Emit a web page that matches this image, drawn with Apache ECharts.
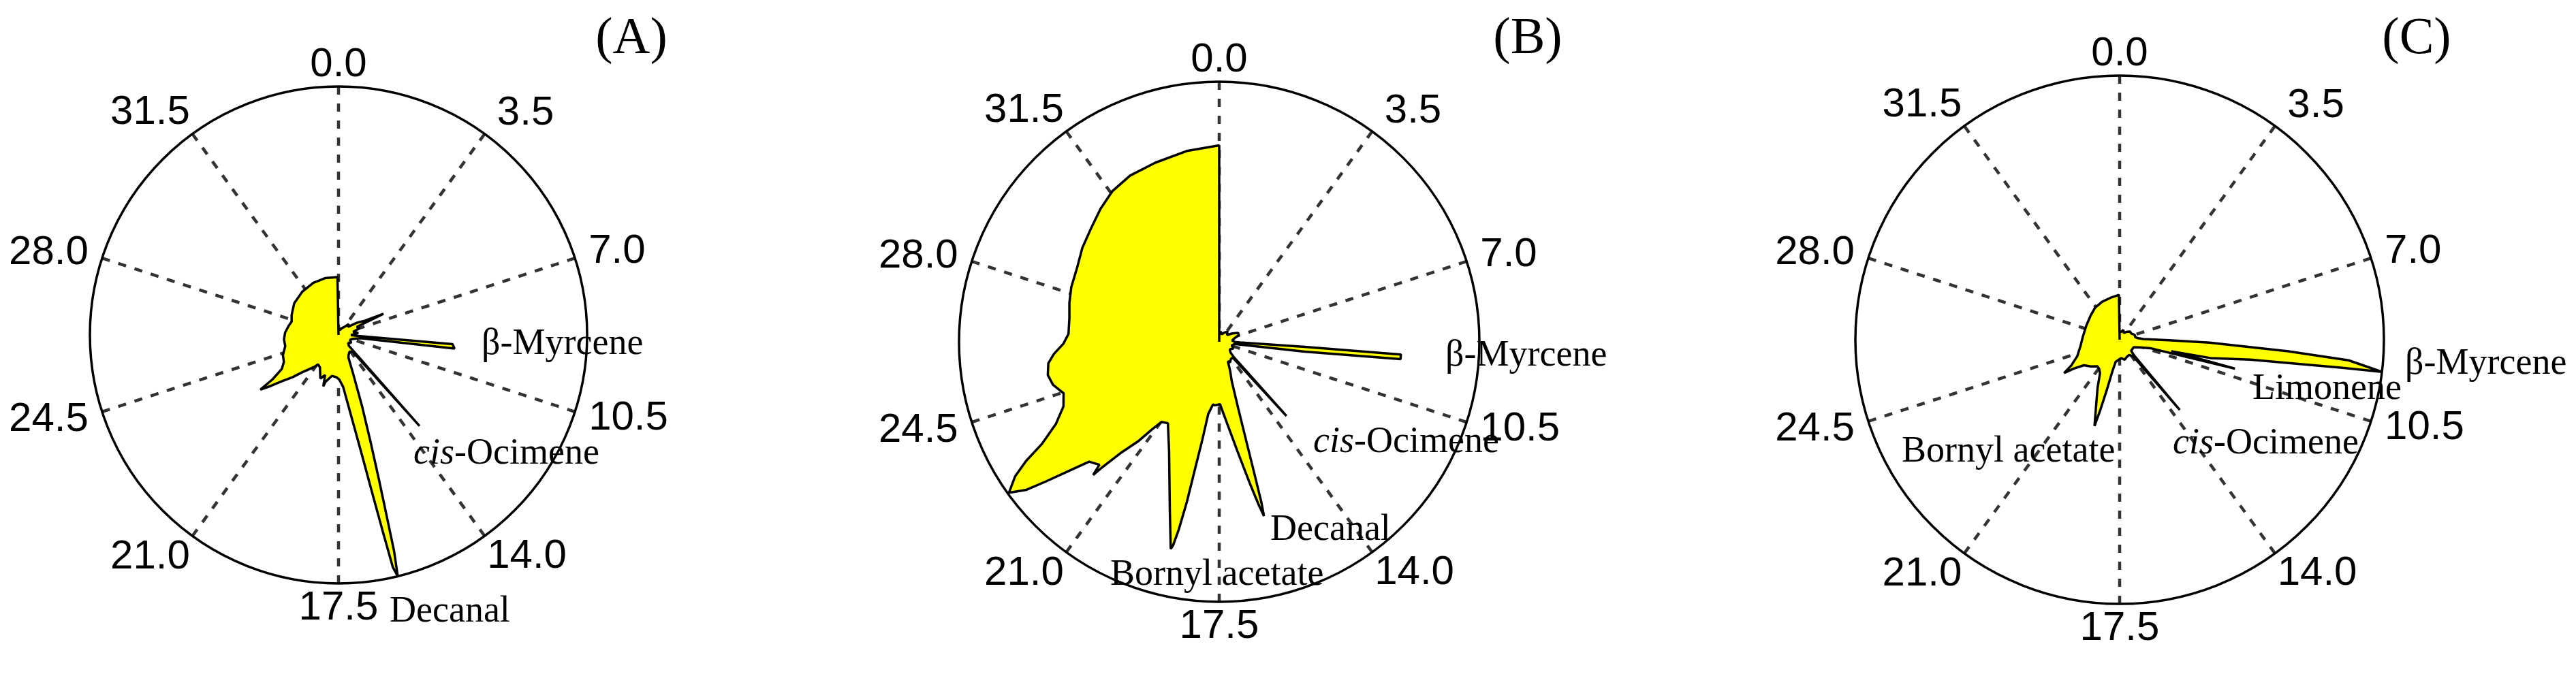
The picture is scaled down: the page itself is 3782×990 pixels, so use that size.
<!DOCTYPE html>
<html>
<head>
<meta charset="utf-8">
<title>Polar aromagrams (A) (B) (C)</title>
<script src="https://cdn.jsdelivr.net/npm/echarts@6/dist/echarts.min.js"></script>
<style>
  html, body { margin: 0; padding: 0; background: #fff; }
  #chart { width: 3782px; height: 990px; }
</style>
</head>
<body>
<div id="chart"></div>
<script>
// retention time (min, 0-35 round the circle) and signal (% of the panel maximum)
const traceA = [
  [0, 2], [0.5, 3], [1.5, 2], [2.5, 3], [3.5, 4], [4.2, 6], [4.8, 5], [5.5, 9], [6.0, 12], [6.3, 20],
  [6.45, 8], [7.0, 9], [7.6, 6], [8.2, 8], [8.8, 5],
  [9.05, 8], [9.2, 46], [9.4, 47], [9.55, 9],
  [10.2, 6], [11.0, 5], [11.8, 6], [12.5, 5],
  [13.25, 6], [13.45, 49], [13.6, 9],
  [14.2, 8], [14.9, 9],
  [15.2, 10], [15.5, 17], [15.72, 30], [15.88, 45], [15.98, 60], [16.05, 75], [16.1, 90], [16.16, 100],
  [16.22, 96], [16.27, 80], [16.33, 65], [16.42, 50], [16.55, 38], [16.75, 28], [17.0, 21], [17.4, 18], [17.8, 17],
  [18.4, 16.7], [19.0, 19.5], [19.1, 21.6], [19.3, 17], [19.7, 19], [20.4, 15], [20.9, 14.4], [21.1, 16],
  [21.5, 18.5], [21.8, 21], [22.1, 25], [22.4, 29], [22.65, 34], [22.85, 38.4],
  [22.95, 32], [23.24, 26.6], [23.7, 24.5], [24.3, 23.8], [25.1, 21.9], [25.8, 22], [26.5, 21.5], [27.25, 20.4],
  [27.8, 19.6], [28.5, 20.5], [29.7, 21.9], [31.1, 22.7], [32.5, 23.3], [33.7, 23.5], [34.9, 23.3], [35, 23.3], [35, 0]
];
const traceB = [
  [0, 3], [0.8, 4], [1.8, 3], [2.8, 4], [3.8, 5], [4.8, 4], [5.6, 6], [6.3, 8], [6.9, 8], [7.5, 6], [8.2, 5], [8.8, 6],
  [8.95, 8], [9.08, 33], [9.14, 70], [9.28, 70], [9.39, 33], [9.55, 6],
  [10.3, 5], [11.2, 6], [12.2, 5], [13.0, 6],
  [13.25, 8], [13.4, 38.5], [13.55, 8],
  [14.2, 8], [14.8, 9], [15.17, 8.2], [15.5, 12], [15.78, 15.8], [15.95, 26.5], [16.02, 40], [16.05, 53], [16.07, 64], [16.1, 69.2],
  [16.17, 65], [16.32, 55.4], [16.58, 42.7], [17.03, 30.2], [17.43, 24],
  [17.9, 24.5], [18.05, 24.2], [18.34, 28.1], [18.45, 38.2], [18.55, 50.5], [18.61, 62.9], [18.68, 73.8], [18.74, 80.2], [18.78, 81.8],
  [19.09, 67.4], [19.89, 46.3], [20.63, 37], [20.98, 38], [21.15, 42.7], [21.31, 49.5], [21.54, 57.3], [21.68, 66.3], [21.72, 70.5],
  [21.8, 66], [22.1, 68], [22.29, 76], [22.47, 85.6], [22.6, 93.4], [22.78, 99.5],
  [23.0, 94], [23.17, 87.2], [23.34, 78.5], [23.65, 70.3], [24.06, 64.8], [24.47, 63], [24.84, 66], [25.18, 67.1], [25.55, 66.2],
  [25.84, 63.7], [26.18, 59.9], [26.54, 58], [27.13, 58.3], [27.67, 59.5], [28.22, 60.6], [28.93, 61.6], [29.6, 63.8], [30.29, 65.8],
  [30.94, 68.5], [31.57, 71], [32.26, 72.5], [33.09, 73.1], [34.06, 74.4], [34.52, 74.7], [35, 75.5], [35, 0]
];
const traceC = [
  [0, 3], [1.0, 3], [2.0, 4], [3.0, 3], [4.0, 4], [5.0, 5], [6.0, 5], [7.0, 6], [7.8, 6], [8.3, 7],
  [8.6, 9], [8.8, 18.6], [8.93, 34], [9.13, 64], [9.25, 87], [9.43, 100],
  [9.45, 85], [9.59, 50], [9.86, 35], [9.98, 20],
  [10.05, 30], [10.12, 45], [10.25, 12],
  [10.8, 8], [11.5, 6], [12.3, 6], [13.0, 6],
  [13.35, 8], [13.56, 35], [13.7, 8],
  [14.4, 6.8], [15.2, 7], [16.14, 7.8], [17.0, 7], [17.7, 7.5], [18.5, 8.5],
  [18.75, 12], [18.9, 20], [19.0, 28], [19.08, 34], [19.5, 25], [19.9, 20], [20.45, 14.7], [20.9, 13.5], [21.36, 13.1],
  [22.1, 14.9], [22.79, 16.6], [23.12, 20.5], [23.24, 24.5], [23.54, 20.6], [24.19, 17.2], [25.36, 15], [26.66, 14],
  [28.46, 13.7], [30.13, 14.3], [31.37, 15.3], [32.57, 15.8], [33.88, 16.3], [34.91, 17], [35, 17], [35, 0]
];

const tickLabels = ['0.0', '3.5', '7.0', '10.5', '14.0', '17.5', '21.0', '24.5', '28.0', '31.5'];
const panelTitles = ['(A)', '(B)', '(C)'];
const peakNamesA = ['β-Myrcene', '{i|cis}-Ocimene', 'Decanal'];
const peakNamesB = ['β-Myrcene', '{i|cis}-Ocimene', 'Decanal', 'Bornyl acetate'];
const peakNamesC = ['β-Myrcene', 'Limonene', '{i|cis}-Ocimene', 'Bornyl acetate'];

// layout
const polars = [
  { center: [497, 492], radius: 365 },
  { center: [1790, 502], radius: 382 },
  { center: [3112, 499], radius: 388 }
];
const titlePos = [[927, 58], [2243, 58], [3548, 58]];
const notePosA = [[707, 506], [607, 667], [572, 899]];
const notePosB = [[2122, 523], [1928, 650], [1865, 779], [1630, 845]];
const notePosC = [[3531, 535], [3307, 572], [3190, 652], [2792, 664]];

const sans = 'Liberation Sans, Arial, sans-serif';
const serif = 'Liberation Serif, Times New Roman, serif';
const labelSize = 60;
const labelMargin = -20;
const refRadius = 378;
// where each tick label centre sits, measured from the end of its spoke on the circle
// 'side' labels get their inner edge this far from the circle
const sideGap = 20;
const labelShift = [[0, -54], [60, -46], [null, -10], [null, 10], [62, 46],
                    [0, 62], [-62, 48], [null, 12], [null, -8], [-62, -48]];

// labels are anchored just inside the circle; padding moves each one to its place
const rich = {};
tickLabels.forEach((txt, k) => {
  const a = k * 36 * Math.PI / 180;
  const ux = Math.sin(a), uy = -Math.cos(a);
  const w = labelSize * (0.556 * (txt.length - 1) + 0.278);
  const h = labelSize;
  let sx = labelShift[k][0];
  if (sx === null) sx = (ux > 0 ? 1 : -1) * (sideGap + w / 2);
  const ox = sx - labelMargin * ux;
  const oy = labelShift[k][1] - labelMargin * uy;
  const f = (refRadius + labelMargin) / refRadius;
  const ax = Math.abs(ux * f) < 0.3 ? 'center' : (ux > 0 ? 'left' : 'right');
  const ay = Math.abs(uy * f) < 0.3 ? 'middle' : (uy > 0 ? 'top' : 'bottom');
  let pt = 0, pr = 0, pb = 0, pl = 0;
  if (ax === 'center') { pl = Math.max(0, 2 * ox); pr = Math.max(0, -2 * ox); }
  else if (ax === 'left') pl = Math.max(0, ox - w / 2);
  else pr = Math.max(0, -ox - w / 2);
  if (ay === 'middle') { pt = Math.max(0, 2 * oy); pb = Math.max(0, -2 * oy); }
  else if (ay === 'top') pt = Math.max(0, oy - h / 2);
  else pb = Math.max(0, -oy - h / 2);
  rich['p' + k] = {
    fontSize: labelSize, fontFamily: sans, color: '#000',
    lineHeight: h, padding: [pt, pr, pb, pl]
  };
});

function tickFormatter(v) {
  const k = Math.round(v / 3.5);
  if (k >= tickLabels.length) return '';
  return '{p' + k + '|' + tickLabels[k] + '}';
}

function note(text, pos) {
  return {
    type: 'text', x: pos[0], y: pos[1], z: 100,
    style: {
      text: text, fontSize: 54, fontFamily: serif, fill: '#000',
      align: 'left', verticalAlign: 'middle',
      rich: { i: { fontStyle: 'italic', fontSize: 54, fontFamily: serif, fill: '#000' } }
    }
  };
}

const traces = [traceA, traceB, traceC];

const graphic = [];
panelTitles.forEach((t, i) => {
  graphic.push({
    type: 'text', x: titlePos[i][0], y: titlePos[i][1], z: 100,
    style: { text: t, fontSize: 76, fontFamily: serif, fill: '#000', align: 'center', verticalAlign: 'middle' }
  });
});
peakNamesA.forEach((n, i) => graphic.push(note(n, notePosA[i])));
peakNamesB.forEach((n, i) => graphic.push(note(n, notePosB[i])));
peakNamesC.forEach((n, i) => graphic.push(note(n, notePosC[i])));

const myChart = echarts.init(document.getElementById('chart'));
const options = {
  backgroundColor: '#fff',
  animation: false,
  polar: polars.map(p => ({ center: p.center, radius: p.radius })),
  angleAxis: polars.map((p, i) => ({
    polarIndex: i,
    type: 'value',
    min: 0,
    max: 35,
    interval: 3.5,
    startAngle: 90,
    clockwise: true,
    axisLine: { show: true, lineStyle: { color: '#000', width: 3.5 } },
    axisTick: { show: false },
    splitLine: { show: true, lineStyle: { color: '#333', width: 4.5, type: [12, 13] } },
    axisLabel: { margin: labelMargin, formatter: tickFormatter, rich: rich }
  })),
  radiusAxis: polars.map((p, i) => ({
    polarIndex: i,
    type: 'value',
    min: 0,
    max: 100,
    axisLine: { show: false },
    axisTick: { show: false },
    axisLabel: { show: false },
    splitLine: { show: false }
  })),
  series: traces.map((tr, i) => ({
    type: 'line',
    coordinateSystem: 'polar',
    polarIndex: i,
    data: tr.map(([t, r]) => [r, t]),
    symbol: 'none',
    smooth: false,
    lineStyle: { color: '#000', width: 3.5 },
    areaStyle: { color: '#ffff00', opacity: 1 },
    z: 3
  })),
  graphic: graphic
};
// 绘制
myChart.setOption(options);
</script>
</body>
</html>
